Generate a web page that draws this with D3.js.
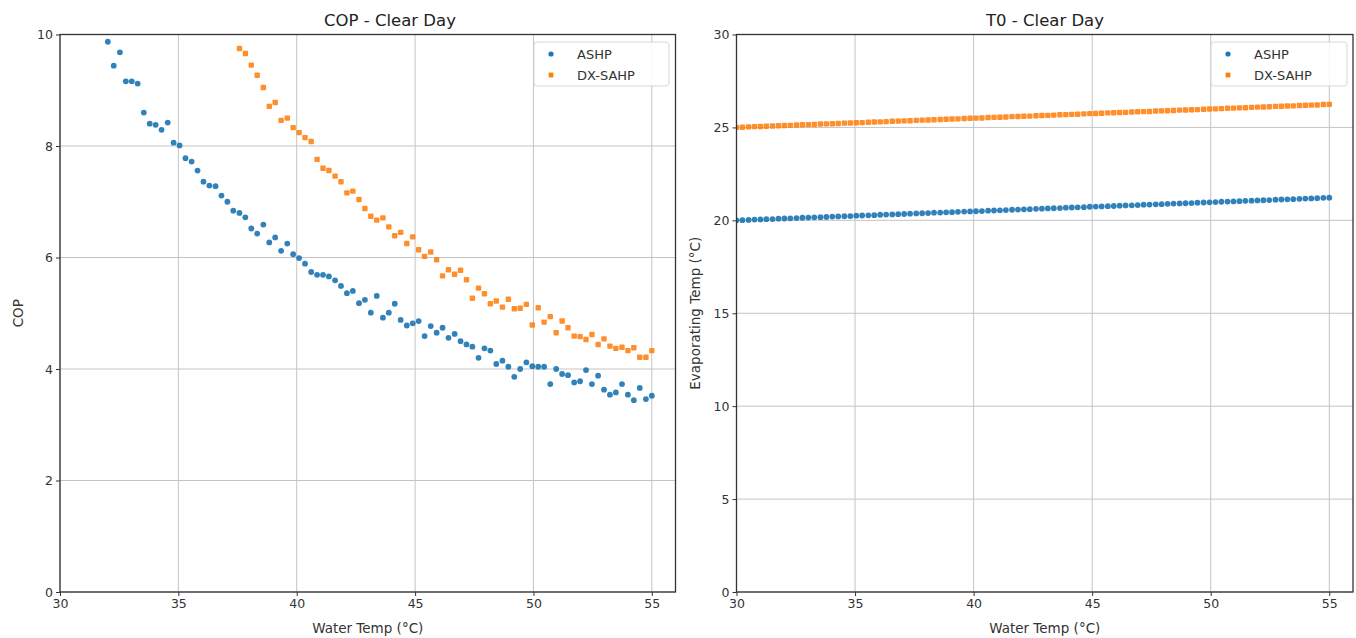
<!DOCTYPE html>
<html><head><meta charset="utf-8">
<script src="https://cdn.jsdelivr.net/npm/d3@7"></script>
<style>body{margin:0;background:#fff} text{font-family:"DejaVu Sans",sans-serif}</style>
</head><body><svg id="c" width="1356" height="638"></svg>
<script>
const waterTemp = [30.00,30.25,30.51,30.76,31.01,31.26,31.52,31.77,32.02,32.27,32.53,32.78,33.03,33.28,33.54,33.79,34.04,34.29,34.55,34.80,
35.05,35.30,35.56,35.81,36.06,36.31,36.57,36.82,37.07,37.32,37.58,37.83,38.08,38.33,38.59,38.84,39.09,39.34,39.60,39.85,
40.10,40.35,40.61,40.86,41.11,41.36,41.62,41.87,42.12,42.37,42.63,42.88,43.13,43.38,43.64,43.89,44.14,44.39,44.65,44.90,
45.15,45.40,45.66,45.91,46.16,46.41,46.67,46.92,47.17,47.42,47.68,47.93,48.18,48.43,48.69,48.94,49.19,49.44,49.70,49.95,
50.20,50.45,50.71,50.96,51.21,51.46,51.72,51.97,52.22,52.47,52.73,52.98,53.23,53.48,53.74,53.99,54.24,54.49,54.75,55.00];

// COP (values above 10 are outside the visible range of the reference)
const copASHP = [null,null,null,null,null,null,null,null,9.87,9.44,9.68,9.16,9.16,9.12,8.60,8.40,8.38,8.29,8.42,8.06,
8.01,7.78,7.72,7.56,7.36,7.29,7.28,7.11,7.00,6.84,6.80,6.72,6.52,6.43,6.59,6.27,6.36,6.12,6.25,6.06,
5.99,5.89,5.74,5.69,5.69,5.66,5.59,5.49,5.36,5.40,5.18,5.24,5.01,5.31,4.92,5.01,5.17,4.88,4.78,4.82,
4.86,4.59,4.77,4.65,4.74,4.56,4.63,4.50,4.44,4.40,4.20,4.37,4.33,4.09,4.15,4.04,3.86,4.00,4.12,4.05,
4.04,4.04,3.73,4.00,3.91,3.89,3.76,3.78,3.98,3.73,3.88,3.63,3.54,3.58,3.73,3.54,3.44,3.66,3.46,3.52];
const copDXSAHP = [null,null,null,null,null,null,null,null,null,null,null,null,null,null,null,null,null,null,null,null,
null,null,null,null,null,null,null,null,null,null,9.75,9.66,9.45,9.27,9.05,8.71,8.78,8.46,8.50,8.33,
8.24,8.15,8.08,7.76,7.60,7.56,7.46,7.36,7.16,7.19,7.04,6.88,6.74,6.67,6.71,6.55,6.39,6.45,6.25,6.37,
6.14,6.02,6.10,5.96,5.67,5.78,5.70,5.77,5.60,5.27,5.45,5.35,5.17,5.22,5.11,5.25,5.08,5.09,5.16,4.79,
5.10,4.84,4.94,4.65,4.86,4.74,4.59,4.58,4.53,4.62,4.44,4.54,4.41,4.37,4.39,4.33,4.38,4.21,4.21,4.33];

// Evaporating temperature T0
const t0ASHP = [20.00,20.01,20.02,20.04,20.05,20.06,20.07,20.09,20.10,20.11,20.12,20.14,20.15,20.16,20.17,20.18,20.20,20.21,20.22,20.23,
20.25,20.26,20.27,20.28,20.30,20.31,20.32,20.33,20.34,20.36,20.37,20.38,20.39,20.41,20.42,20.43,20.44,20.46,20.47,20.48,
20.49,20.50,20.52,20.53,20.54,20.55,20.57,20.58,20.59,20.60,20.62,20.63,20.64,20.65,20.66,20.68,20.69,20.70,20.71,20.73,
20.74,20.75,20.76,20.77,20.79,20.80,20.81,20.82,20.84,20.85,20.86,20.87,20.89,20.90,20.91,20.92,20.93,20.95,20.96,20.97,
20.98,21.00,21.01,21.02,21.03,21.05,21.06,21.07,21.08,21.09,21.11,21.12,21.13,21.14,21.16,21.17,21.18,21.19,21.21,21.22];
const t0DXSAHP = [25.00,25.01,25.03,25.04,25.05,25.06,25.08,25.09,25.10,25.11,25.13,25.14,25.15,25.16,25.18,25.19,25.20,25.21,25.23,25.24,
25.25,25.26,25.28,25.29,25.30,25.31,25.33,25.34,25.35,25.36,25.38,25.39,25.40,25.41,25.43,25.44,25.45,25.46,25.48,25.49,
25.50,25.51,25.53,25.54,25.55,25.56,25.58,25.59,25.60,25.61,25.63,25.64,25.65,25.66,25.68,25.69,25.70,25.71,25.73,25.74,
25.75,25.76,25.78,25.79,25.80,25.81,25.83,25.84,25.85,25.86,25.88,25.89,25.90,25.91,25.93,25.94,25.95,25.96,25.98,25.99,
26.00,26.01,26.03,26.04,26.05,26.06,26.08,26.09,26.10,26.11,26.13,26.14,26.15,26.16,26.18,26.19,26.20,26.21,26.23,26.24];

const xTicks = [30,35,40,45,50,55];
const copTicks = [0,2,4,6,8,10];
const t0Ticks = [0,5,10,15,20,25,30];
const seriesNames = ["ASHP","DX-SAHP"];
const seriesColors = ["#1f77b4","#ff7f0e"];

const svg = d3.select("#c");

function panel(cfg){
  const x = d3.scaleLinear().domain([30,56]).range([cfg.l, cfg.r]);
  const y = d3.scaleLinear().domain(cfg.yDomain).range([cfg.b, cfg.t]);
  const g = svg.append("g");
  const clipId = "clip" + cfg.id;
  svg.append("clipPath").attr("id", clipId).append("rect")
    .attr("x", cfg.l).attr("y", cfg.t - 4).attr("width", cfg.r - cfg.l).attr("height", cfg.b - cfg.t + 4);

  // grid
  g.append("g").selectAll("line").data(xTicks).join("line")
    .attr("x1", d => x(d)).attr("x2", d => x(d)).attr("y1", cfg.t).attr("y2", cfg.b)
    .attr("stroke", "#c4c4c4").attr("stroke-width", 1);
  g.append("g").selectAll("line").data(cfg.yTicks).join("line")
    .attr("x1", cfg.l).attr("x2", cfg.r).attr("y1", d => y(d)).attr("y2", d => y(d))
    .attr("stroke", "#c4c4c4").attr("stroke-width", 1);

  // axes
  const ax = g.append("g").attr("transform", `translate(0,${cfg.b})`)
    .call(d3.axisBottom(x).tickValues(xTicks).tickSize(4).tickPadding(3).tickFormat(d3.format("d")));
  const ay = g.append("g").attr("transform", `translate(${cfg.l},0)`)
    .call(d3.axisLeft(y).tickValues(cfg.yTicks).tickSize(4).tickPadding(3).tickFormat(d3.format("d")));
  [ax, ay].forEach(a => {
    a.select(".domain").remove();
    a.selectAll(".tick line").attr("stroke", "#333");
    a.selectAll(".tick text").attr("fill", "#333").style("font-size", "12.5px").style("font-family", "DejaVu Sans");
  });

  // data
  const dg = g.append("g").attr("clip-path", `url(#${clipId})`);
  const s0 = waterTemp.map((w,i) => ({w, v: cfg.series[0][i]})).filter(d => d.v != null);
  const s1 = waterTemp.map((w,i) => ({w, v: cfg.series[1][i]})).filter(d => d.v != null);
  dg.append("g").selectAll("circle").data(s0).join("circle")
    .attr("cx", d => x(d.w)).attr("cy", d => y(d.v)).attr("r", 2.9)
    .attr("fill", seriesColors[0]).attr("fill-opacity", 0.92);
  dg.append("g").selectAll("rect").data(s1).join("rect")
    .attr("x", d => x(d.w) - 2.7).attr("y", d => y(d.v) - 2.7).attr("width", 5.4).attr("height", 5.4)
    .attr("rx", 1).attr("fill", seriesColors[1]).attr("fill-opacity", 0.88);

  // frame
  g.append("rect").attr("x", cfg.l).attr("y", cfg.t).attr("width", cfg.r - cfg.l).attr("height", cfg.b - cfg.t)
    .attr("fill", "none").attr("stroke", "#333").attr("stroke-width", 1.3);

  // title & labels
  g.append("text").attr("x", cfg.titleX).attr("y", 20).attr("text-anchor", "middle").attr("dominant-baseline", "central")
    .style("font-size", "16.5px").attr("fill", "#222").text(cfg.title);
  g.append("text").attr("x", (cfg.l + cfg.r) / 2).attr("y", 628).attr("text-anchor", "middle").attr("dominant-baseline", "central")
    .style("font-size", "13.5px").attr("fill", "#333").text("Water Temp (°C)");
  g.append("text").attr("transform", `translate(${cfg.ylx},${(cfg.t + cfg.b) / 2}) rotate(-90)`)
    .attr("text-anchor", "middle").attr("dominant-baseline", "central")
    .style("font-size", "13.5px").attr("fill", "#333").text(cfg.ylabel);

  // legend
  const lg = g.append("g");
  lg.append("rect").attr("x", cfg.lgx).attr("y", cfg.lgy).attr("width", cfg.lgw).attr("height", cfg.lgh)
    .attr("rx", 3).attr("fill", "#fff").attr("fill-opacity", 0.85).attr("stroke", "#d6d6d6");
  seriesNames.forEach((n, i) => {
    const cy = cfg.lgy + 12 + i * 21;
    if (i === 0) lg.append("circle").attr("cx", cfg.lgx + 17).attr("cy", cy).attr("r", 2.6).attr("fill", seriesColors[0]);
    else lg.append("rect").attr("x", cfg.lgx + 17 - 2.4).attr("y", cy - 2.4).attr("width", 4.8).attr("height", 4.8).attr("fill", seriesColors[1]);
    lg.append("text").attr("x", cfg.lgx + 43).attr("y", cy).attr("dominant-baseline", "central")
      .style("font-size", "13px").attr("fill", "#333").text(n);
  });
}

panel({id: 0, l: 60, r: 675.5, t: 34.5, b: 592, yDomain: [0,10], yTicks: copTicks,
  series: [copASHP, copDXSAHP], title: "COP - Clear Day", titleX: 390, ylabel: "COP", ylx: 18,
  lgx: 534, lgy: 42, lgw: 135, lgh: 44});
panel({id: 1, l: 736.5, r: 1353, t: 34.5, b: 592, yDomain: [0,30], yTicks: t0Ticks,
  series: [t0ASHP, t0DXSAHP], title: "T0 - Clear Day", titleX: 1045, ylabel: "Evaporating Temp (°C)", ylx: 695,
  lgx: 1211, lgy: 42, lgw: 136, lgh: 44});
</script></body></html>
